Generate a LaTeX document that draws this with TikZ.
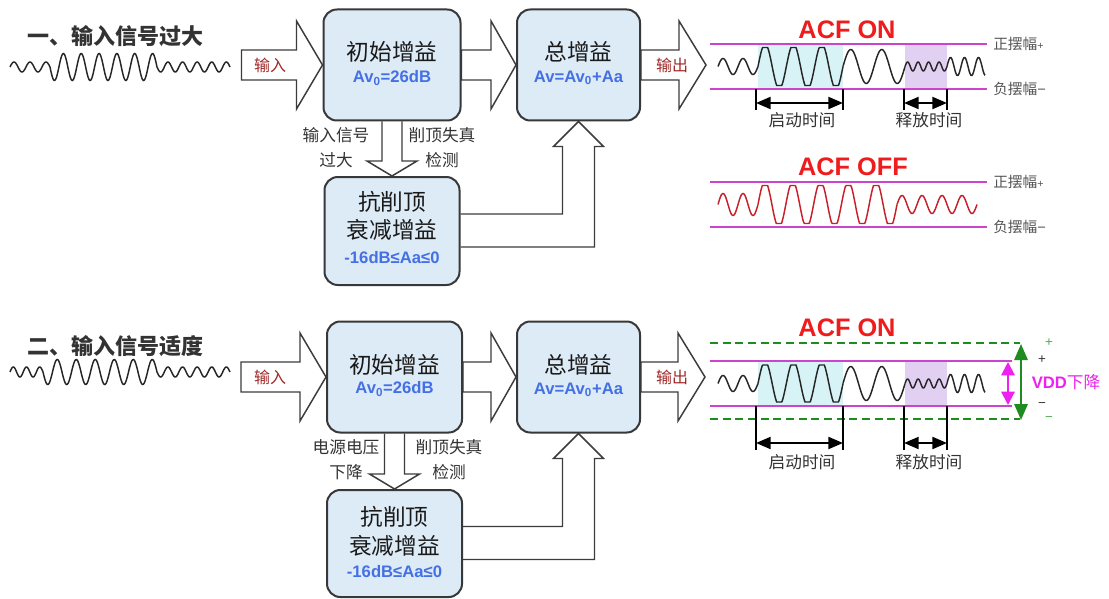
\documentclass[tikz,border=0pt]{standalone}
\usepackage{fontspec}
\setmainfont{Liberation Sans}
\newfontfamily\cjk{Noto Sans CJK SC}
\newfontfamily\lat{Liberation Sans}
\usetikzlibrary{calc,arrows.meta}
\pgfdeclarelayer{bgg}\pgfdeclarelayer{bg}
\pgfsetlayers{bgg,bg,main}

\definecolor{boxfill}{HTML}{DDEBF7}
\definecolor{boxline}{HTML}{383838}
\definecolor{arrline}{HTML}{3C3C3C}
\definecolor{lblred}{HTML}{A02828}
\definecolor{txtblue}{HTML}{4470E4}
\definecolor{acfred}{HTML}{EE1C1C}
\definecolor{swing}{HTML}{CC44CC}
\definecolor{cyanfill}{HTML}{D8F3F5}
\definecolor{lavfill}{HTML}{E2D0F2}
\definecolor{gray5}{HTML}{555555}
\definecolor{dgreen}{HTML}{1E8C1E}
\definecolor{lgreen}{HTML}{55AA55}
\definecolor{vmag}{HTML}{EE22EE}
\definecolor{offred}{HTML}{C8202A}

% wave segment: style, x0, x1, yc, amp, period, clip
\newcommand\wseg[7]{\draw[#1] plot[domain=#2:#3, samples=160] (\x, {#4 - max(-#7, min(#7, #5*sin((360/#6)*(\x-#2))))});}

% horizontal block arrow: from, tip, head length
\newcommand\hblock[3]{\begin{pgfonlayer}{bg}
\draw[barrow] ($(#1)+(0,-15)$) -- ($(#2)+(-#3,-15)$) -- ($(#2)+(-#3,-44)$) -- (#2) -- ($(#2)+(-#3,44)$) -- ($(#2)+(-#3,15)$) -- ($(#1)+(0,15)$) -- cycle;
\end{pgfonlayer}}
% vertical (down) block arrow: from, tip
\newcommand\vblock[2]{\begin{pgfonlayer}{bg}
\draw[barrow] ($(#1)+(-10,0)$) -- ($(#2)+(-10,-15)$) -- ($(#2)+(-25,-15)$) -- (#2) -- ($(#2)+(25,-15)$) -- ($(#2)+(10,-15)$) -- ($(#1)+(10,0)$);
\end{pgfonlayer}}
% U-shaped block arrow: from box east, tip
\newcommand\ublock[2]{\begin{pgfonlayer}{bg}
\draw[barrow] ($(#1)+(0,-17)$) -| ($(#2)+(-16,25)$) -- ($(#2)+(-25,25)$) -- (#2) -- ($(#2)+(25,25)$) -- ($(#2)+(16,25)$) |- ($(#1)+(0,16)$);
\end{pgfonlayer}}

\begin{document}
\begin{tikzpicture}[x=0.75pt,y=-0.75pt,
  gbox/.style={draw=boxline, line width=1.5pt, fill=boxfill, rounded corners=10pt, inner sep=0pt},
  barrow/.style={draw=arrline, line width=1.1pt, fill=white, line join=miter},
  title/.style={font=\cjk\bfseries\fontsize{16.5pt}{20pt}\selectfont, text=black!80, inner sep=0pt},
  boxcn/.style={font=\cjk\fontsize{17pt}{20pt}\selectfont, text=black!90, inner sep=0pt},
  boxen/.style={font=\bfseries\fontsize{12.5pt}{15pt}\selectfont, text=txtblue, inner sep=0pt},
  arrlbl/.style={font=\cjk\fontsize{12pt}{14pt}\selectfont, text=lblred, inner sep=0pt},
  sidelbl/.style={font=\cjk\fontsize{12.5pt}{18.75pt}\selectfont, text=black!80, align=center, inner sep=0pt},
  acf/.style={font=\bfseries\fontsize{19pt}{22pt}\selectfont, text=acfred, inner sep=0pt},
  swinglbl/.style={font=\cjk\fontsize{11pt}{13pt}\selectfont, text=gray5, anchor=west, inner sep=0pt},
  timelbl/.style={font=\cjk\fontsize{12.5pt}{15pt}\selectfont, text=black!80, inner sep=0pt},
  swingline/.style={draw=swing, line width=1.5pt},
  inwave/.style={draw=black!85, line width=1.1pt},
  outwave/.style={draw=black!85, line width=1.1pt},
  offwave/.style={draw=offred, line width=1.1pt},
  tick/.style={draw=black, line width=1pt},
  dimarrow/.style={draw=black, line width=1.6pt, <->, >={Triangle[length=11pt,width=9pt]}},
  gdash/.style={draw=dgreen, line width=1pt, dash pattern=on 6pt off 3.5pt},
  garrow/.style={draw=dgreen, line width=1.5pt, <->, >={Triangle[length=12pt,width=10pt]}},
  marrow/.style={draw=vmag, line width=1.5pt, <->, >={Triangle[length=10pt,width=10pt]}},
]
\begin{pgfonlayer}{bgg}
\fill[white] (0,0) rectangle (1109,599);
\end{pgfonlayer}
\useasboundingbox (0,0) rectangle (1109,599);

%================ TOP SECTION ================
\node[title] (t1) at (115,36) {一、输入信号过大};
\wseg{inwave}{10}{50}{67}{5}{16}{100}
\wseg{inwave}{50}{157}{67}{-13.5}{17.833}{100}
\wseg{inwave}{157}{230}{67}{-5}{14.6}{100}

\node[gbox, minimum width={137*0.75pt}, minimum height={111*0.75pt}] (b1) at (392,65) {};
\node[gbox, minimum width={123*0.75pt}, minimum height={111*0.75pt}] (b2) at (578.5,65) {};
\node[gbox, minimum width={135*0.75pt}, minimum height={108*0.75pt}] (b3) at (392,231) {};

\coordinate (in1) at ($(b1.west)+(-81,0)$);
\coordinate (out1) at ($(b2.east)+(65,0)$);
\hblock{in1}{b1.west}{26}
\hblock{b1.east}{b2.west}{25}
\hblock{b2.east}{out1}{27}
\vblock{b1.south}{b3.north}
\ublock{b3.east}{b2.south}

\node[arrlbl] (l1in) at (270,65) {输入};
\node[arrlbl] (l1out) at (672,65) {输出};
\node[boxcn] (b1t) at (392,52) {初始增益};
\node[boxen] (b1e) at (392,78) {Av\textsubscript{0}=26dB};
\node[boxcn] (b2t) at (578.5,52) {总增益};
\node[boxen] (b2e) at (578.5,78) {Av=Av\textsubscript{0}+Aa};
\node[boxcn] (b3t) at (392,202) {抗削顶};
\node[boxcn] (b3u) at (392,230) {衰减增益};
\node[boxen] (b3e) at (392,258) {-16dB≤Aa≤0};
\node[sidelbl] (s1a) at (336,147.5) {输入信号\\过大};
\node[sidelbl] (s1b) at (442,147.5) {削顶失真\\检测};

% ACF ON (top)
\node[acf] (acf1) at (847,30) {ACF ON};
\fill[cyanfill] (758,45) rectangle (843,88);
\fill[lavfill] (905,44) rectangle (947,89);
\draw[swingline] (710,44) -- (987,44);
\draw[swingline] (710,89) -- (987,89);
\wseg{outwave}{718}{758}{66.5}{8}{20}{100}
\wseg{outwave}{758}{843}{66.5}{22.5}{28.333}{19}
\wseg{outwave}{843}{905}{66.5}{17}{31}{100}
\wseg{outwave}{905}{947}{66.5}{4.5}{10.5}{100}
\wseg{outwave}{947}{985}{66.5}{9}{14}{100}
\node[swinglbl] (p1) at (993,44) {正摆幅{\lat\fontsize{8pt}{9pt}\selectfont +}};
\node[swinglbl] (n1) at (993,89) {负摆幅{\lat −}};
\coordinate (a1s) at (756,89); \coordinate (a1e) at (756,110);
\coordinate (a2s) at (843,89); \coordinate (a2e) at (843,110);
\coordinate (a3s) at (904,89); \coordinate (a3e) at (904,110);
\coordinate (a4s) at (947,89); \coordinate (a4e) at (947,110);
\draw[tick] (a1s) -- (a1e);
\draw[tick] (a2s) -- (a2e);
\draw[tick] (a3s) -- (a3e);
\draw[tick] (a4s) -- (a4e);
\coordinate (d1a) at (756,103); \coordinate (d1b) at (843,103);
\coordinate (d2a) at (904,103); \coordinate (d2b) at (947,103);
\draw[dimarrow] (d1a) -- (d1b);
\draw[dimarrow] (d2a) -- (d2b);
\node[timelbl] (tm1) at (802,120) {启动时间};
\node[timelbl] (tm2) at (929,120) {释放时间};

% ACF OFF
\node[acf] (acf2) at (853,167) {ACF OFF};
\draw[swingline] (710,182) -- (987,182);
\draw[swingline] (710,227) -- (987,227);
\wseg{offwave}{718}{758}{204.5}{11}{20}{100}
\wseg{offwave}{758}{897}{204.5}{23}{27.8}{19}
\wseg{offwave}{897}{977}{204.5}{9}{20}{100}
\node[swinglbl] (p2) at (993,182) {正摆幅{\lat\fontsize{8pt}{9pt}\selectfont +}};
\node[swinglbl] (n2) at (993,227) {负摆幅{\lat −}};

%================ BOTTOM SECTION ================
\node[title] (t2) at (115,346) {二、输入信号适度};
\wseg{inwave}{10}{43}{372}{5}{13.2}{100}
\wseg{inwave}{43}{157}{372}{-12.5}{19}{100}
\wseg{inwave}{157}{230}{372}{-5}{14.6}{100}

\node[gbox, minimum width={135*0.75pt}, minimum height={111*0.75pt}] (c1) at (394.5,377) {};
\node[gbox, minimum width={123*0.75pt}, minimum height={111*0.75pt}] (c2) at (578.5,377) {};
\node[gbox, minimum width={135*0.75pt}, minimum height={107*0.75pt}] (c3) at (394.5,543.5) {};

\coordinate (in2) at ($(c1.west)+(-85,0)$);
\coordinate (out2) at ($(c2.east)+(64,0)$);
\hblock{in2}{c1.west}{26}
\hblock{c1.east}{c2.west}{25}
\hblock{c2.east}{out2}{27}
\vblock{c1.south}{c3.north}
\ublock{c3.east}{c2.south}

\node[arrlbl] (l2in) at (270,377) {输入};
\node[arrlbl] (l2out) at (672,377) {输出};
\node[boxcn] (c1t) at (394.5,365) {初始增益};
\node[boxen] (c1e) at (394.5,389) {Av\textsubscript{0}=26dB};
\node[boxcn] (c2t) at (578.5,365) {总增益};
\node[boxen] (c2e) at (578.5,390) {Av=Av\textsubscript{0}+Aa};
\node[boxcn] (c3t) at (394.5,517) {抗削顶};
\node[boxcn] (c3u) at (394.5,546) {衰减增益};
\node[boxen] (c3e) at (394.5,572) {-16dB≤Aa≤0};
\node[sidelbl] (s2a) at (346,460) {电源电压\\下降};
\node[sidelbl] (s2b) at (449,460) {削顶失真\\检测};

% ACF ON (bottom)
\node[acf] (acf3) at (847,328) {ACF ON};
\draw[gdash] (710,343) -- (1020,343);
\draw[gdash] (710,419) -- (1020,419);
\fill[cyanfill] (758,362) rectangle (843,405);
\fill[lavfill] (905,361) rectangle (947,406);
\draw[swingline] (710,361) -- (1012,361);
\draw[swingline] (710,406) -- (1012,406);
\wseg{outwave}{718}{758}{383.5}{8}{20}{100}
\wseg{outwave}{758}{843}{383.5}{22}{28.333}{18.5}
\wseg{outwave}{843}{905}{383.5}{17}{31}{100}
\wseg{outwave}{905}{947}{383.5}{4.5}{10.5}{100}
\wseg{outwave}{947}{985}{383.5}{9}{14}{100}
\coordinate (e1s) at (756,406); \coordinate (e1e) at (756,450);
\coordinate (e2s) at (843,406); \coordinate (e2e) at (843,450);
\coordinate (e3s) at (904,406); \coordinate (e3e) at (904,450);
\coordinate (e4s) at (947,406); \coordinate (e4e) at (947,450);
\draw[tick] (e1s) -- (e1e);
\draw[tick] (e2s) -- (e2e);
\draw[tick] (e3s) -- (e3e);
\draw[tick] (e4s) -- (e4e);
\coordinate (f1a) at (756,443); \coordinate (f1b) at (843,443);
\coordinate (f2a) at (904,443); \coordinate (f2b) at (947,443);
\draw[dimarrow] (f1a) -- (f1b);
\draw[dimarrow] (f2a) -- (f2b);
\node[timelbl] (tm3) at (802,462) {启动时间};
\node[timelbl] (tm4) at (929,462) {释放时间};

\coordinate (mtop) at (1008,362); \coordinate (mbot) at (1008,405);
\coordinate (gtop) at (1021,344); \coordinate (gbot) at (1021,420);
\draw[marrow] (mtop) -- (mbot);
\draw[garrow] (gtop) -- (gbot);
\node[font=\lat\fontsize{10pt}{12pt}\selectfont, text=black!80, inner sep=0pt] (pp) at (1042,360) {+};
\node[font=\lat\fontsize{10pt}{12pt}\selectfont, text=black!80, inner sep=0pt] (nn) at (1042,405) {−};
\node[font=\lat\fontsize{10pt}{12pt}\selectfont, text=lgreen, inner sep=0pt] (gp) at (1049,343) {+};
\node[font=\lat\fontsize{10pt}{12pt}\selectfont, text=lgreen, inner sep=0pt] (gn) at (1049,419) {−};
\node[font=\fontsize{12.5pt}{15pt}\selectfont, text=vmag, inner sep=0pt] (vdd) at (1066,382) {\textbf{VDD}{\cjk 下降}};
\end{tikzpicture}
\end{document}
